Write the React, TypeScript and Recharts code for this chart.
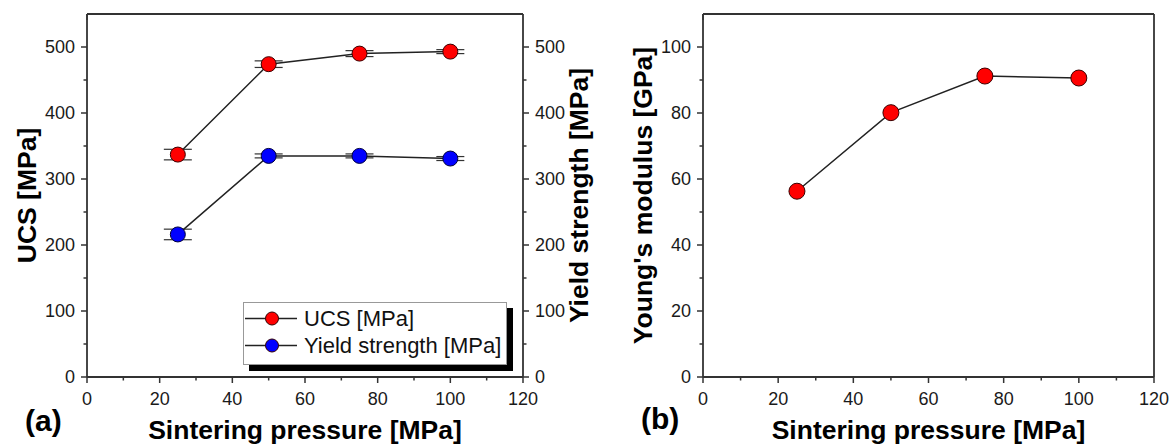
import { LineChart, Line, XAxis, YAxis, ErrorBar, Legend } from 'recharts'

// values
const pressures = [25, 50, 75, 100]
const ucsValues = [337, 474, 490, 493]
const ucsErrors = [8, 5, 4.5, 3]
const yieldValues = [216, 335, 335, 331]
const yieldErrors = [8, 3, 3, 3]
const modulusValues = [56.3, 80.1, 91.2, 90.6]

const pressureTicks = [0, 10, 20, 30, 40, 50, 60, 70, 80, 90, 100, 110, 120]
const strengthTicks = [0, 50, 100, 150, 200, 250, 300, 350, 400, 450, 500]
const modulusTicks = [0, 10, 20, 30, 40, 50, 60, 70, 80, 90, 100]

const strengthData = pressures.map((p, i) => ({
  p,
  ucs: ucsValues[i],
  ucsErr: ucsErrors[i],
  ys: yieldValues[i],
  ysErr: yieldErrors[i],
}))
const modulusData = pressures.map((p, i) => ({ p, e: modulusValues[i] }))

const FONT = 'Liberation Sans, Arial, Helvetica, sans-serif'
const AXIS = '#333'
const tickText = { fontFamily: FONT, fontSize: 18, fill: '#1a1a1a' }
const titleStyle = { fontFamily: FONT, fontSize: 26.5, fontWeight: 700, fill: '#000', textAnchor: 'middle' as const }

// y ticks: side = which side the axis sits, inward = tick marks into the plot
const yTick = (side: 'left' | 'right', step: number, labels: boolean, inward: boolean) => (props: any) => {
  const { x, y, payload } = props
  const v = payload.value
  const major = v % step === 0
  const out = side === 'left' ? -1 : 1
  const d = inward ? -out : out
  return (
    <g>
      <line x1={x} y1={y} x2={x + d * (major ? 6 : 3.5)} y2={y} stroke={AXIS} strokeWidth={1.5} />
      {labels && major && (
        <text x={x + out * 12} y={y} dy="0.36em" textAnchor={side === 'left' ? 'end' : 'start'} {...tickText}>
          {v}
        </text>
      )}
    </g>
  )
}

// x ticks: bottom axis ticks point down (outward), top axis ticks point down (inward)
const xTick = (labels: boolean) => (props: any) => {
  const { x, y, payload } = props
  const v = payload.value
  const major = v % 20 === 0
  return (
    <g>
      <line x1={x} y1={y} x2={x} y2={y + (major ? 6 : 3.5)} stroke={AXIS} strokeWidth={1.5} />
      {labels && major && (
        <text x={x} y={y + 28} textAnchor="middle" {...tickText}>
          {v}
        </text>
      )}
    </g>
  )
}

function LegendIcon({ color }: { color: string }) {
  return (
    <svg width={54} height={27} style={{ display: 'block' }}>
      <line x1={1} y1={13.5} x2={53} y2={13.5} stroke="#222" strokeWidth={1.5} />
      <circle cx={28} cy={13.5} r={6.5} fill={color} stroke="#300" strokeWidth={1} />
    </svg>
  )
}

function StrengthLegend() {
  const rows = [
    { name: 'UCS [MPa]', color: '#ff0000' },
    { name: 'Yield strength [MPa]', color: '#0000ff' },
  ]
  return (
    <div
      style={{
        width: 262,
        height: 57,
        border: '1px solid #999',
        background: '#fff',
        boxShadow: '6px 6px 0 #000',
        padding: '2px 0',
        boxSizing: 'content-box',
      }}
    >
      {rows.map((r) => (
        <div key={r.name} style={{ display: 'flex', alignItems: 'center', height: 27 }}>
          <LegendIcon color={r.color} />
          <span style={{ marginLeft: 6, fontFamily: FONT, fontSize: 22, color: '#111', lineHeight: '27px' }}>
            {r.name}
          </span>
        </div>
      ))}
    </div>
  )
}

export default function App() {
  return (
    <div style={{ position: 'absolute', left: 0, top: 0, width: 1176, height: 448, background: '#fff' }}>
      <div style={{ position: 'absolute', left: 0, top: 0 }}>
        <LineChart width={620} height={448} data={strengthData} margin={{ top: 0, right: 0, bottom: 0, left: 0 }}>
          <XAxis
            dataKey="p"
            type="number"
            domain={[0, 120]}
            ticks={pressureTicks}
            interval={0}
            height={71}
            tickSize={0}
            tickMargin={0}
            tickLine={false}
            axisLine={{ stroke: AXIS, strokeWidth: 1.8 }}
            tick={xTick(true)}
            label={{ value: 'Sintering pressure [MPa]', position: 'insideBottom', offset: 9, style: titleStyle }}
          />
          <XAxis
            xAxisId="top"
            orientation="top"
            type="number"
            domain={[0, 120]}
            ticks={pressureTicks}
            interval={0}
            height={14}
            tickSize={0}
            tickMargin={0}
            tickLine={false}
            axisLine={{ stroke: AXIS, strokeWidth: 1.8 }}
            tick={xTick(false)}
          />
          <YAxis
            yAxisId="left"
            type="number"
            domain={[0, 550]}
            ticks={strengthTicks}
            interval={0}
            width={87}
            tickSize={0}
            tickMargin={0}
            tickLine={false}
            axisLine={{ stroke: AXIS, strokeWidth: 1.8 }}
            tick={yTick('left', 100, true, false)}
            label={{ value: 'UCS [MPa]', angle: -90, position: 'insideLeft', offset: 27, style: titleStyle }}
          />
          <YAxis
            yAxisId="right"
            orientation="right"
            type="number"
            domain={[0, 550]}
            ticks={strengthTicks}
            interval={0}
            width={97}
            tickSize={0}
            tickMargin={0}
            tickLine={false}
            axisLine={{ stroke: AXIS, strokeWidth: 1.8 }}
            tick={yTick('right', 100, true, false)}
            label={{ value: 'Yield strength [MPa]', angle: -90, position: 'insideRight', offset: 41, style: titleStyle }}
          />
          <Legend
            layout="vertical"
            verticalAlign="middle"
            align="center"
            content={() => <StrengthLegend />}
            wrapperStyle={{ left: 243, top: 302, width: 270, height: 66 }}
          />
          <Line
            yAxisId="left"
            dataKey="ucs"
            name="UCS [MPa]"
            stroke="#222"
            strokeWidth={1.5}
            dot={{ r: 7.5, fill: '#ff0000', stroke: '#3a0000', strokeWidth: 1 }}
            activeDot={false}
            isAnimationActive={false}
          >
            <ErrorBar dataKey="ucsErr" direction="y" width={14} stroke="#333" strokeWidth={1.2} isAnimationActive={false} />
          </Line>
          <Line
            yAxisId="right"
            dataKey="ys"
            name="Yield strength [MPa]"
            stroke="#222"
            strokeWidth={1.5}
            dot={{ r: 7.5, fill: '#0000ff', stroke: '#00003a', strokeWidth: 1 }}
            activeDot={false}
            isAnimationActive={false}
          >
            <ErrorBar dataKey="ysErr" direction="y" width={14} stroke="#333" strokeWidth={1.2} isAnimationActive={false} />
          </Line>
        </LineChart>
      </div>

      <div style={{ position: 'absolute', left: 620, top: 0 }}>
        <LineChart width={556} height={448} data={modulusData} margin={{ top: 0, right: 0, bottom: 0, left: 0 }}>
          <XAxis
            dataKey="p"
            type="number"
            domain={[0, 120]}
            ticks={pressureTicks}
            interval={0}
            height={71}
            tickSize={0}
            tickMargin={0}
            tickLine={false}
            axisLine={{ stroke: AXIS, strokeWidth: 1.8 }}
            tick={xTick(true)}
            label={{ value: 'Sintering pressure [MPa]', position: 'insideBottom', offset: 9, style: titleStyle }}
          />
          <XAxis
            xAxisId="top"
            orientation="top"
            type="number"
            domain={[0, 120]}
            ticks={pressureTicks}
            interval={0}
            height={14}
            tickSize={0}
            tickMargin={0}
            tickLine={false}
            axisLine={{ stroke: AXIS, strokeWidth: 1.8 }}
            tick={xTick(false)}
          />
          <YAxis
            yAxisId="left"
            type="number"
            domain={[0, 110]}
            ticks={modulusTicks}
            interval={0}
            width={83}
            tickSize={0}
            tickMargin={0}
            tickLine={false}
            axisLine={{ stroke: AXIS, strokeWidth: 1.8 }}
            tick={yTick('left', 20, true, false)}
            label={{ value: "Young's modulus [GPa]", angle: -90, position: 'insideLeft', offset: 23, style: titleStyle }}
          />
          <YAxis
            yAxisId="right"
            orientation="right"
            type="number"
            domain={[0, 110]}
            ticks={modulusTicks}
            interval={0}
            width={22}
            tickSize={0}
            tickMargin={0}
            tickLine={false}
            axisLine={{ stroke: AXIS, strokeWidth: 1.8 }}
            tick={yTick('right', 20, false, true)}
          />
          <Line
            yAxisId="left"
            dataKey="e"
            stroke="#222"
            strokeWidth={1.5}
            dot={{ r: 8, fill: '#ff0000', stroke: '#3a0000', strokeWidth: 1 }}
            activeDot={false}
            isAnimationActive={false}
          />
        </LineChart>
      </div>

      <svg width={1176} height={448} style={{ position: 'absolute', left: 0, top: 0, pointerEvents: 'none' }}>
        <text x={25} y={431} fontFamily={FONT} fontSize={30} fontWeight={700} fill="#000">
          (a)
        </text>
        <text x={641} y={429} fontFamily={FONT} fontSize={30} fontWeight={700} fill="#000">
          (b)
        </text>
      </svg>
    </div>
  )
}
